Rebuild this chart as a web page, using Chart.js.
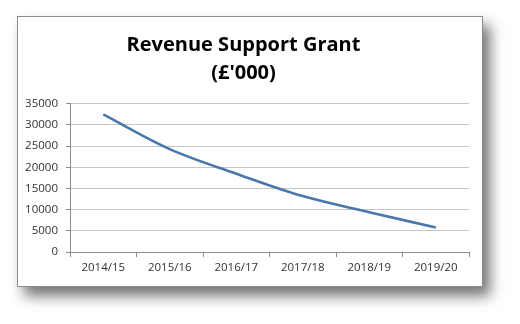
<!DOCTYPE html>
<html>
<head>
<meta charset="utf-8">
<script src="https://cdn.jsdelivr.net/npm/chart.js@4/dist/chart.umd.min.js"></script>
<style>
  html, body { margin: 0; padding: 0; background: #ffffff; }
  body { width: 520px; height: 324px; position: relative; overflow: hidden; }
  #frame {
    position: absolute; left: 17px; top: 16px;
    width: 464px; height: 269px;
    border: 1px solid #8c8c8c;
    background: #ffffff;
    box-shadow: 7px 9px 13px rgba(0,0,0,0.55);
  }
  #chart { display: block; }
</style>
</head>
<body>
<div id="frame"><canvas id="chart" width="464" height="269"></canvas></div>
<script>
// Revenue Support Grant by financial year, £'000
const years = ['2014/15', '2015/16', '2016/17', '2017/18', '2018/19', '2019/20'];
const grant = [32500, 24300, 18500, 13200, 9400, 5800];
const yTicks = [0, 5000, 10000, 15000, 20000, 25000, 30000, 35000];

const tickFont = { family: '"Open Sans", sans-serif', size: 11.5 };

new Chart(document.getElementById('chart'), {
  type: 'line',
  data: {
    labels: years,
    datasets: [{
      label: 'Revenue Support Grant',
      data: grant,
      borderColor: '#4a78ae',
      borderWidth: 2.6,
      pointRadius: 0,
      tension: 0.35,
      fill: false
    }]
  },
  options: {
    responsive: false,
    animation: false,
    devicePixelRatio: 1,
    layout: { padding: { left: 0, right: 13, top: 0, bottom: 0 } },
    plugins: {
      legend: { display: false },
      tooltip: { enabled: false },
      title: {
        display: true,
        text: ['Revenue Support Grant', "(£'000)"],
        color: '#000000',
        font: { family: '"Open Sans", sans-serif', size: 20, weight: 'bold', lineHeight: 1.42 },
        padding: { top: 14, bottom: 16 }
      }
    },
    scales: {
      x: {
        offset: true,
        grid: {
          offset: true,
          drawOnChartArea: false,
          drawTicks: true,
          tickLength: 5,
          tickColor: '#8c8c8c'
        },
        border: { color: '#8c8c8c', width: 1 },
        ticks: { color: '#333333', font: tickFont, padding: 4, maxRotation: 0 },
        afterFit: (s) => { s.height = 34; }
      },
      y: {
        min: 0,
        max: 35000,
        afterBuildTicks: (s) => { s.ticks = yTicks.map(v => ({ value: v })); },
        grid: {
          color: '#c6c6c6',
          tickLength: 4,
          tickColor: '#8c8c8c'
        },
        border: { color: '#8c8c8c', width: 1 },
        ticks: { color: '#333333', font: tickFont, padding: 8, callback: (v) => String(v) },
        afterFit: (s) => { s.width = 52; }
      }
    }
  }
});
</script>
</body>
</html>
